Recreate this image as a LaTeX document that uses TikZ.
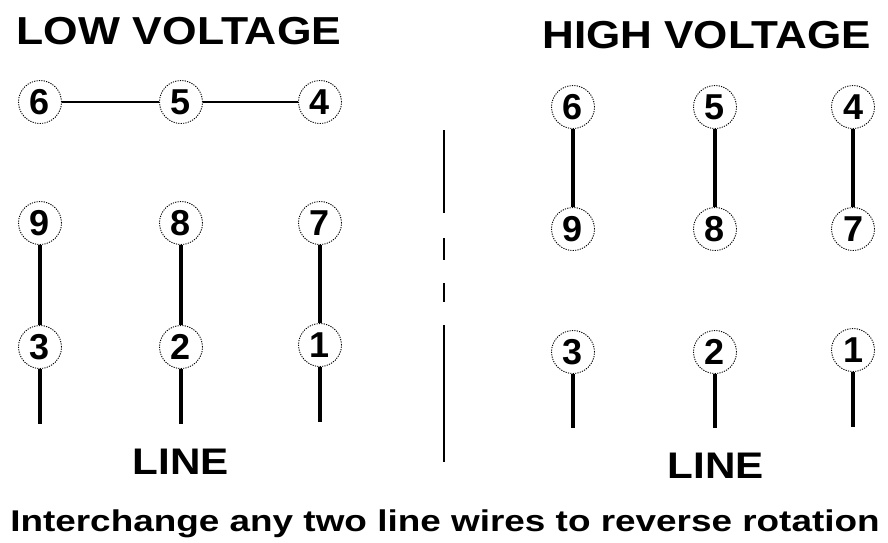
\documentclass[tikz,border=0pt]{standalone}
\usepackage{fontspec}
\setmainfont{Liberation Sans}
\begin{document}
\begin{tikzpicture}[x=1pt,y=-1pt,
  term/.style={circle,draw,line width=0.9pt,dash pattern=on 1.2pt off 1.2pt,minimum size=43pt,inner sep=0pt,font=\fontsize{36}{36}\selectfont\bfseries},
  wire/.style={line width=3.2pt},
  thinwire/.style={line width=2.2pt},
  title/.style={anchor=base,inner sep=0pt,font=\fontsize{39}{40}\selectfont\bfseries,xscale=1.14},
  sep/.style={line width=2pt}]
\useasboundingbox (0,0) rectangle (888,542);
\fill[white] (0,0) rectangle (888,542);
% titles
\node[title] (tlow) at (179,44) {LOW VOLTAGE};
\node[title,xscale=0.99] (thigh) at (706.5,48) {HIGH VOLTAGE};
\node[title,font=\fontsize{37}{40}\selectfont\bfseries] (linel) at (181,474) {LINE};
\node[title,font=\fontsize{37}{40}\selectfont\bfseries] (liner) at (716,478) {LINE};
\node[anchor=base,inner sep=0pt,font=\fontsize{30}{32}\selectfont\bfseries,xscale=1.23] (note) at (445,531) {Interchange any two line wires to reverse rotation};
% low voltage
\node[term] (l6) at (40,102) {6};
\node[term] (l5) at (181,102) {5};
\node[term] (l4) at (320,102) {4};
\node[term] (l9) at (40,223) {9};
\node[term] (l8) at (181,223) {8};
\node[term] (l7) at (320,223) {7};
\node[term] (l3) at (40,347) {3};
\node[term] (l2) at (181,347) {2};
\node[term] (l1) at (320,345) {1};
\coordinate (le3) at (40,424);
\coordinate (le2) at (181,424);
\coordinate (le1) at (320,422);
\draw[thinwire] (l6) -- (l5);
\draw[thinwire] (l5) -- (l4);
\draw[wire] (l9) -- (l3);
\draw[wire] (l8) -- (l2);
\draw[wire] (l7) -- (l1);
\draw[wire] (l3) -- (le3);
\draw[wire] (l2) -- (le2);
\draw[wire] (l1) -- (le1);
% high voltage
\node[term] (h6) at (573,107) {6};
\node[term] (h5) at (715,107) {5};
\node[term] (h4) at (853,107) {4};
\node[term] (h9) at (573,229) {9};
\node[term] (h8) at (715,229) {8};
\node[term] (h7) at (853,229) {7};
\node[term] (h3) at (573,352) {3};
\node[term] (h2) at (715,352) {2};
\node[term] (h1) at (853,350) {1};
\coordinate (he3) at (573,428);
\coordinate (he2) at (715,428);
\coordinate (he1) at (853,427);
\draw[wire] (h6) -- (h9);
\draw[wire] (h5) -- (h8);
\draw[wire] (h4) -- (h7);
\draw[wire] (h3) -- (he3);
\draw[wire] (h2) -- (he2);
\draw[wire] (h1) -- (he1);
% separator
\coordinate (s1a) at (444,130); \coordinate (s1b) at (444,213);
\coordinate (s2a) at (444,238); \coordinate (s2b) at (444,260);
\coordinate (s3a) at (444,283); \coordinate (s3b) at (444,302);
\coordinate (s4a) at (444,325); \coordinate (s4b) at (444,462);
\draw[sep] (s1a) -- (s1b);
\draw[sep] (s2a) -- (s2b);
\draw[sep] (s3a) -- (s3b);
\draw[sep] (s4a) -- (s4b);
\end{tikzpicture}
\end{document}
